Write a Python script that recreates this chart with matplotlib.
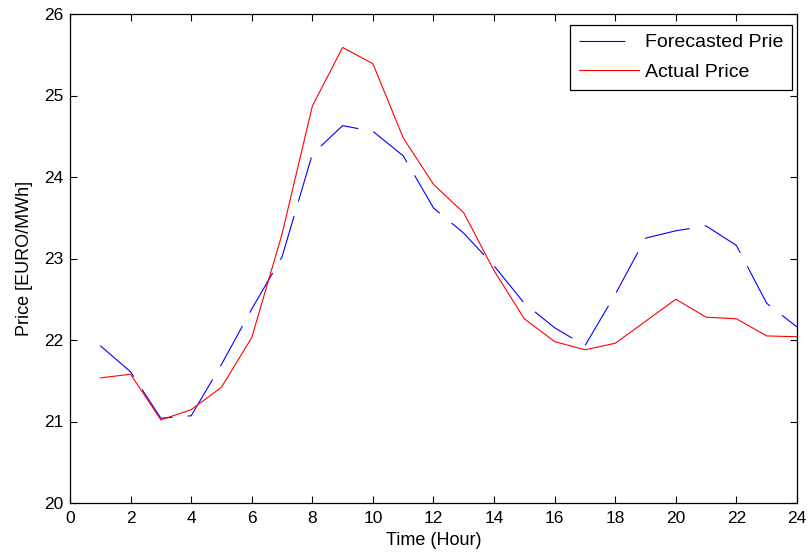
import matplotlib
matplotlib.use("Agg")
import matplotlib.pyplot as plt

plt.rcParams['font.family'] = ['Liberation Sans', 'DejaVu Sans']
plt.rcParams['lines.scale_dashes'] = False

hours = list(range(1, 25))
forecasted = [21.93, 21.61, 21.04, 21.07, 21.70, 22.38, 23.02, 24.28, 24.63, 24.56,
              24.26, 23.62, 23.31, 22.91, 22.45, 22.15, 21.93, 22.56, 23.25, 23.34,
              23.40, 23.16, 22.45, 22.16]
actual = [21.535, 21.58, 21.02, 21.145, 21.42, 22.03, 23.30, 24.87, 25.59, 25.39,
          24.48, 23.91, 23.56, 22.85, 22.26, 21.98, 21.88, 21.96, 22.23, 22.50,
          22.28, 22.26, 22.05, 22.04]
xticks = list(range(0, 25, 2))
yticks = list(range(20, 27))

fig = plt.figure(figsize=(8.1, 5.58), dpi=100)
ax = fig.add_axes([70/810, 55/558, 727/810, 489/558])

ax.plot(hours, forecasted, color='#0000ff', linewidth=0.8, dashes=(33, 11),
        label='Forecasted Prie')
ax.plot(hours, actual, color='#ff0000', linewidth=0.8, label='Actual Price')

ax.set_xlim(0, 24)
ax.set_ylim(20, 26)
ax.set_xticks(xticks)
ax.set_yticks(yticks)
ax.tick_params(direction='in', top=True, right=True, length=5, width=0.8,
               labelsize=12.5)
ax.tick_params(axis='x', pad=6)
ax.tick_params(axis='y', pad=5)
for s in ax.spines.values():
    s.set_linewidth(0.9)

ax.set_xlabel('Time (Hour)', fontsize=13, labelpad=4)
ax.set_ylabel('Price [EURO/MWh]', fontsize=13, labelpad=8)

leg = ax.legend(loc='upper right', bbox_to_anchor=((792-70)/727, (503-25)/489),
                fontsize=14, frameon=True, fancybox=False,
                edgecolor='black', framealpha=1, handlelength=3.1,
                borderaxespad=0, handletextpad=0.3, borderpad=0.45,
                labelspacing=0.62)
leg.get_frame().set_linewidth(0.9)

fig.savefig('out.png', dpi=100)
